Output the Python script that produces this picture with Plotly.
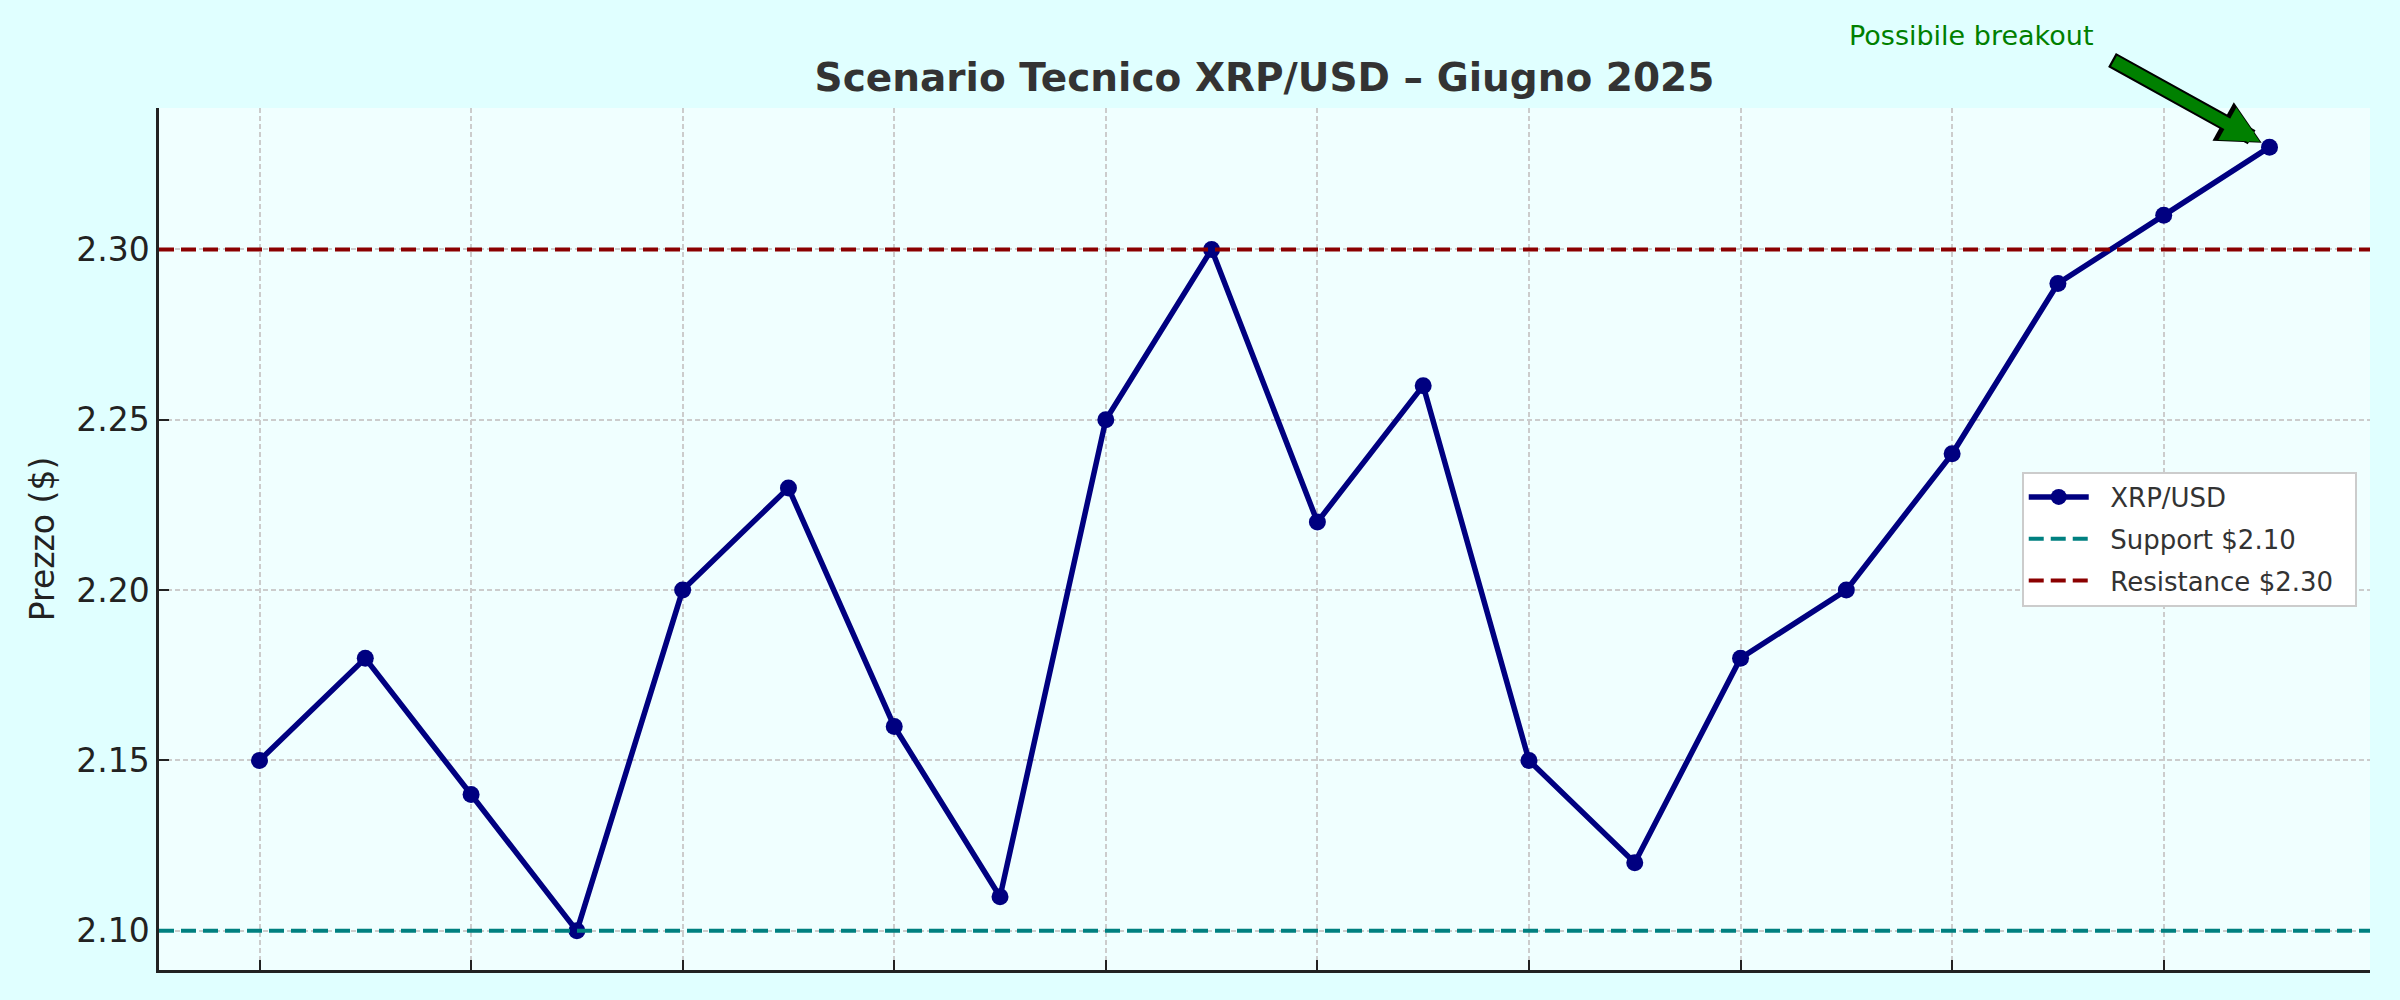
import plotly.graph_objects as go

# giorni di giugno 2025 e prezzi di chiusura XRP/USD
days = list(range(1, 21))
prices = [2.15, 2.18, 2.14, 2.10, 2.20, 2.23, 2.16, 2.11, 2.25, 2.30,
          2.22, 2.26, 2.15, 2.12, 2.18, 2.20, 2.24, 2.29, 2.31, 2.33]
support = 2.10
resistance = 2.30
y_ticks = [2.10, 2.15, 2.20, 2.25, 2.30]
x_ticks = days[::2]

FONT = "DejaVu Sans"
PAD = "\u00a0\u00a0"  # spazio tra simbolo e testo nella legenda

fig = go.Figure()

fig.add_trace(go.Scatter(
    x=days, y=prices, name=PAD + "XRP/USD", mode="lines+markers",
    line=dict(color="#000080", width=5.5),
    marker=dict(color="#000080", size=17),
    legendrank=1, legendgroup="a",
))

fig.add_shape(type="line", xref="paper", x0=0, x1=1, y0=support, y1=support,
              line=dict(color="#008080", width=4, dash="15px,7px"),
              name=PAD + "Support $2.10", showlegend=True, legendrank=2, legendgroup="b")
fig.add_shape(type="line", xref="paper", x0=0, x1=1, y0=resistance, y1=resistance,
              line=dict(color="#8B0000", width=4, dash="15px,7px"),
              name=PAD + "Resistance $2.30" + PAD, showlegend=True, legendrank=3,
              legendgroup="c")

# freccia "Possibile breakout": contorno nero + riempimento verde
last_x, last_y = days[-1], prices[-1]
fig.add_annotation(x=last_x, y=last_y, ax=-159, ay=-88, text="", showarrow=True,
                   arrowhead=2, arrowwidth=16, arrowsize=0.55, arrowcolor="black",
                   standoff=9)
fig.add_annotation(x=last_x, y=last_y, ax=-157, ay=-87, text="", showarrow=True,
                   arrowhead=2, arrowwidth=12, arrowsize=0.62, arrowcolor="#008000",
                   standoff=11)
fig.add_annotation(x=last_x, y=last_y, text="Possibile breakout", showarrow=False,
                   xshift=-298, yshift=112,
                   font=dict(family=FONT, size=27, color="#008000"))

axis_common = dict(
    showline=True, linecolor="#222222", linewidth=2.5, mirror=False,
    ticks="inside", ticklen=10, tickwidth=2.2, tickcolor="#222222",
    showgrid=True, gridcolor="#cccccc", gridwidth=1.6, griddash="5px,3px",
    zeroline=False,
)

fig.update_xaxes(
    range=[days[0] - 0.95, days[-1] + 0.95],
    tickvals=x_ticks, showticklabels=False,
    **axis_common,
)
fig.update_yaxes(
    range=[2.0885, 2.3415],
    tickvals=y_ticks, tickformat=".2f",
    tickfont=dict(family=FONT, size=33, color="#222222"),
    title=dict(text="Prezzo ($)", font=dict(family=FONT, size=33, color="#222222"),
               standoff=12),
    **axis_common,
)

fig.update_layout(
    width=2400, height=1000,
    paper_bgcolor="#E0FFFF", plot_bgcolor="#F0FFFF",
    margin=dict(l=159, r=30, t=108, b=30, autoexpand=False),
    title=dict(text="<b>Scenario Tecnico XRP/USD – Giugno 2025</b>",
               x=0.5, xref="paper", y=0.923, yref="container", yanchor="middle",
               font=dict(family=FONT, size=39, color="#333333")),
    font=dict(family=FONT, color="#333333"),
    legend=dict(x=0.994, xanchor="right", y=0.5, yanchor="middle",
                bgcolor="white", bordercolor="#cccccc", borderwidth=2,
                font=dict(family=FONT, size=26, color="#333333"),
                itemwidth=60, tracegroupgap=5),
    showlegend=True,
)

fig.write_html("out.html", config={"displayModeBar": False},
               post_script="document.body.style.margin='0';")
